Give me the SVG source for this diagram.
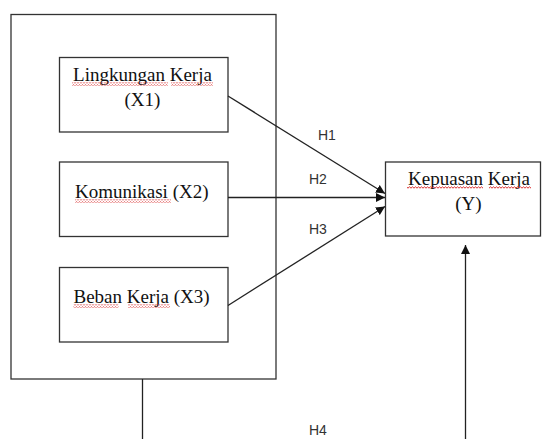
<svg xmlns="http://www.w3.org/2000/svg" width="542" height="439" viewBox="0 0 542 439">
  <style>
    .box { fill: #ffffff; stroke: #333333; stroke-width: 1.3; }
    .frame { fill: none; stroke: #333333; stroke-width: 1.3; }
    .line { fill: none; stroke: #222222; stroke-width: 1.3; }
    .label { font-family: "Liberation Serif", "Times New Roman", serif; font-size: 19px; fill: #111111; }
    .hyp { font-family: "Liberation Sans", Arial, sans-serif; font-size: 14px; fill: #333333; }
    .squiggle { fill: url(#wave); }
  </style>
  <defs>
    <marker id="arrow" viewBox="0 0 10 10" refX="10" refY="5" markerUnits="userSpaceOnUse" markerWidth="9" markerHeight="9" orient="auto">
      <path d="M0,0 L10,5 L0,10 z" fill="#111111"/>
    </marker>
    <!-- red wavy spell-check underline -->
    <pattern id="wave" x="0" y="0" width="3" height="3" patternUnits="userSpaceOnUse">
      <path d="M0,2.2 L1.5,0.8 L3,2.2" fill="none" stroke="#d92a2a" stroke-width="1"/>
    </pattern>
  </defs>

  <!-- outer frame grouping the independent variables -->
  <rect class="frame" x="11" y="14.5" width="265" height="364.5"/>

  <g id="x1">
    <rect class="box" x="59.5" y="57.5" width="168.5" height="74.5"/>
    <text class="label" x="142.5" y="81" text-anchor="middle">Lingkungan Kerja</text>
    <text class="label" x="142.5" y="106" text-anchor="middle">(X1)</text>
    <rect class="squiggle" x="72" y="82.5" width="96" height="3"/>
    <rect class="squiggle" x="171" y="82.5" width="42" height="3"/>
  </g>

  <g id="x2">
    <rect class="box" x="59.5" y="162" width="168.5" height="74.5"/>
    <text class="label" x="75" y="198">Komunikasi (X2)</text>
    <rect class="squiggle" x="75" y="199.5" width="96" height="3"/>
  </g>

  <g id="x3">
    <rect class="box" x="59.5" y="267.5" width="168.5" height="74.5"/>
    <text class="label" x="73.5" y="303">Beban Kerja (X3)</text>
    <rect class="squiggle" x="73.5" y="304.5" width="45" height="3"/>
    <rect class="squiggle" x="128" y="304.5" width="42" height="3"/>
  </g>

  <g id="y">
    <rect class="box" x="385.5" y="162" width="155" height="74"/>
    <text class="label" x="469" y="184.5" text-anchor="middle">Kepuasan Kerja</text>
    <text class="label" x="468.5" y="209.5" text-anchor="middle">(Y)</text>
    <rect class="squiggle" x="407" y="186" width="76" height="3"/>
    <rect class="squiggle" x="489" y="186" width="42" height="3"/>
  </g>

  <g id="connectors">
    <line class="line" x1="228" y1="96" x2="385" y2="193.5" marker-end="url(#arrow)"/>
    <line class="line" x1="228" y1="197.5" x2="385" y2="197.5" marker-end="url(#arrow)"/>
    <line class="line" x1="228" y1="305.5" x2="385" y2="206.5" marker-end="url(#arrow)"/>
    <line class="line" x1="142.5" y1="379" x2="142.5" y2="439"/>
    <line class="line" x1="465.5" y1="439" x2="465.5" y2="245" marker-end="url(#arrow)"/>
  </g>

  <g id="hypotheses">
    <text class="hyp" x="318" y="139.5">H1</text>
    <text class="hyp" x="309" y="183.5">H2</text>
    <text class="hyp" x="309" y="234">H3</text>
    <text class="hyp" x="309" y="435">H4</text>
  </g>
</svg>
